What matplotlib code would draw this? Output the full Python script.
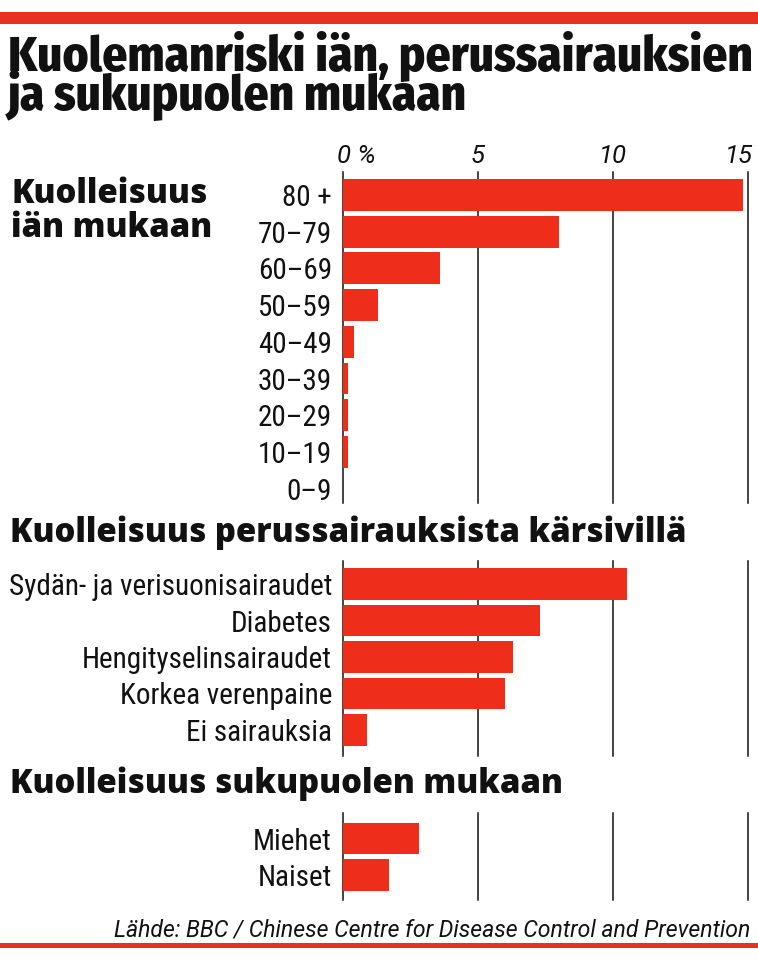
import matplotlib
matplotlib.use('Agg')
import matplotlib.pyplot as plt
from matplotlib.patches import Rectangle
from matplotlib.font_manager import FontProperties
from matplotlib.transforms import blended_transform_factory, offset_copy

# ---------------- data ----------------
age_groups = ['80 +', '70–79', '60–69', '50–59', '40–49', '30–39', '20–29', '10–19', '0–9']
age_rates = [14.8, 8.0, 3.6, 1.3, 0.4, 0.2, 0.2, 0.2, 0.0]

conditions = ['Sydän- ja verisuonisairaudet', 'Diabetes', 'Hengityselinsairaudet',
              'Korkea verenpaine', 'Ei sairauksia']
condition_rates = [10.5, 7.3, 6.3, 6.0, 0.9]

sexes = ['Miehet', 'Naiset']
sex_rates = [2.8, 1.7]

x_ticks = [0, 5, 10, 15]
x_tick_labels = ['0 %', '5', '10', '15']

title_lines = ['Kuolemanriski iän, perussairauksien', 'ja sukupuolen mukaan']
section1_lines = ['Kuolleisuus', 'iän mukaan']
section2_title = 'Kuolleisuus perussairauksista kärsivillä'
section3_title = 'Kuolleisuus sukupuolen mukaan'
source = 'Lähde: BBC / Chinese Centre for Disease Control and Prevention'

# ---------------- style ----------------
W, H = 758, 960
RED = '#EE2D1B'
BAND = '#E8321F'
INK = '#111111'
COND = ['Roboto Condensed', 'DejaVu Sans']
TITLE = ['Fira Sans Condensed', 'Roboto Condensed', 'DejaVu Sans']
HEAD = ['Open Sans', 'Fira Sans', 'DejaVu Sans']
LIGHT = ['Roboto', 'DejaVu Sans']

fig = plt.figure(figsize=(W / 100, H / 100), dpi=100)
fig.patch.set_facecolor('white')
renderer = fig.canvas.get_renderer()


def fx(px):
    return px / W


def fy(py):
    return 1 - py / H


def fitted_size(s, target_px, family, weight, style='normal', base=30):
    t = fig.text(0, 0, s, fontsize=base, family=family, fontweight=weight, fontstyle=style)
    w = t.get_window_extent(renderer).width
    t.remove()
    return base * target_px / w


def spacing_for(pitch_px, size, family, weight):
    fp = FontProperties(family=family, weight=weight, size=size)
    _, h, d = renderer.get_text_width_height_descent('lp', fp, ismath=False)
    return (pitch_px - d) / (h - d)


# red bands top and bottom
fig.patches.append(Rectangle((0, fy(24)), 1, (24 - 12) / H, transform=fig.transFigure,
                             facecolor=BAND, edgecolor='none', zorder=0))
fig.patches.append(Rectangle((0, fy(948)), 1, (948 - 943) / H, transform=fig.transFigure,
                             facecolor=BAND, edgecolor='none', zorder=0))

# title (two lines, tight leading; y is the baseline of the last line)
ts = fitted_size(title_lines[0], 744, TITLE, 800)
fig.text(fx(8), fy(110), '\n'.join(title_lines), fontsize=ts, fontweight=800, family=TITLE,
         color=INK, va='baseline', ha='left', linespacing=spacing_for(37, ts, TITLE, 800))

# section headers (one common size)
hs = fitted_size(section2_title, 678, HEAD, 800)
fig.text(fx(11), fy(237), '\n'.join(section1_lines), fontsize=hs, fontweight=800, family=HEAD,
         color=INK, va='baseline', linespacing=spacing_for(34, hs, HEAD, 800))
fig.text(fx(10), fy(542), section2_title, fontsize=hs, fontweight=800, family=HEAD,
         color=INK, va='baseline')
fig.text(fx(10), fy(793), section3_title, fontsize=hs, fontweight=800, family=HEAD,
         color=INK, va='baseline')

# source
ss = fitted_size(source, 635, LIGHT, 'normal', 'italic')
fig.text(fx(750), fy(937), source, fontsize=ss, fontstyle='italic', fontweight='normal',
         family=LIGHT, color=INK, va='baseline', ha='right')

X0, X1 = 343, 748


def panel(top, first_center, bottom, pitch, cats, vals):
    ax = fig.add_axes([fx(X0), fy(bottom), (X1 - X0) / W, (bottom - top) / H])
    ax.set_xlim(0, 15)
    ytop = -(first_center - top) / pitch
    ybot = (bottom - first_center) / pitch
    ax.set_ylim(ybot, ytop)
    ax.barh(range(len(cats)), vals, height=0.87, color=RED, zorder=2, linewidth=0)
    for t in x_ticks:
        ax.axvline(t, color=INK, lw=1.1, zorder=1, clip_on=False)
    ax.set_yticks(range(len(cats)))
    ax.set_yticklabels(cats, fontsize=21, family=COND, color=INK)
    ax.tick_params(axis='y', length=0, pad=8)
    ax.set_xticks([])
    for s in ax.spines.values():
        s.set_visible(False)
    ax.patch.set_alpha(0)
    return ax


ax1 = panel(172, 195, 503, 36.7, age_groups, age_rates)
ax2 = panel(561, 584, 756, 36.5, conditions, condition_rates)
ax3 = panel(813, 838.5, 900, 36.5, sexes, sex_rates)

# top axis tick labels
trans = blended_transform_factory(ax1.transData, ax1.transAxes)
offsets = {0: (-6, 'left'), 5: (0, 'center'), 10: (0, 'center'), 15: (5, 'right')}
for t, lab in zip(x_ticks, x_tick_labels):
    dx, ha = offsets[t]
    tr = offset_copy(trans, fig=fig, x=dx * 72 / 100, y=9 * 72 / 100, units='points')
    ax1.text(t, 1, lab, transform=tr, ha=ha, va='baseline', fontsize=18.5,
             fontstyle='italic', fontweight='normal', family=LIGHT, color=INK)

fig.savefig('out.png', dpi=100, facecolor='white')
